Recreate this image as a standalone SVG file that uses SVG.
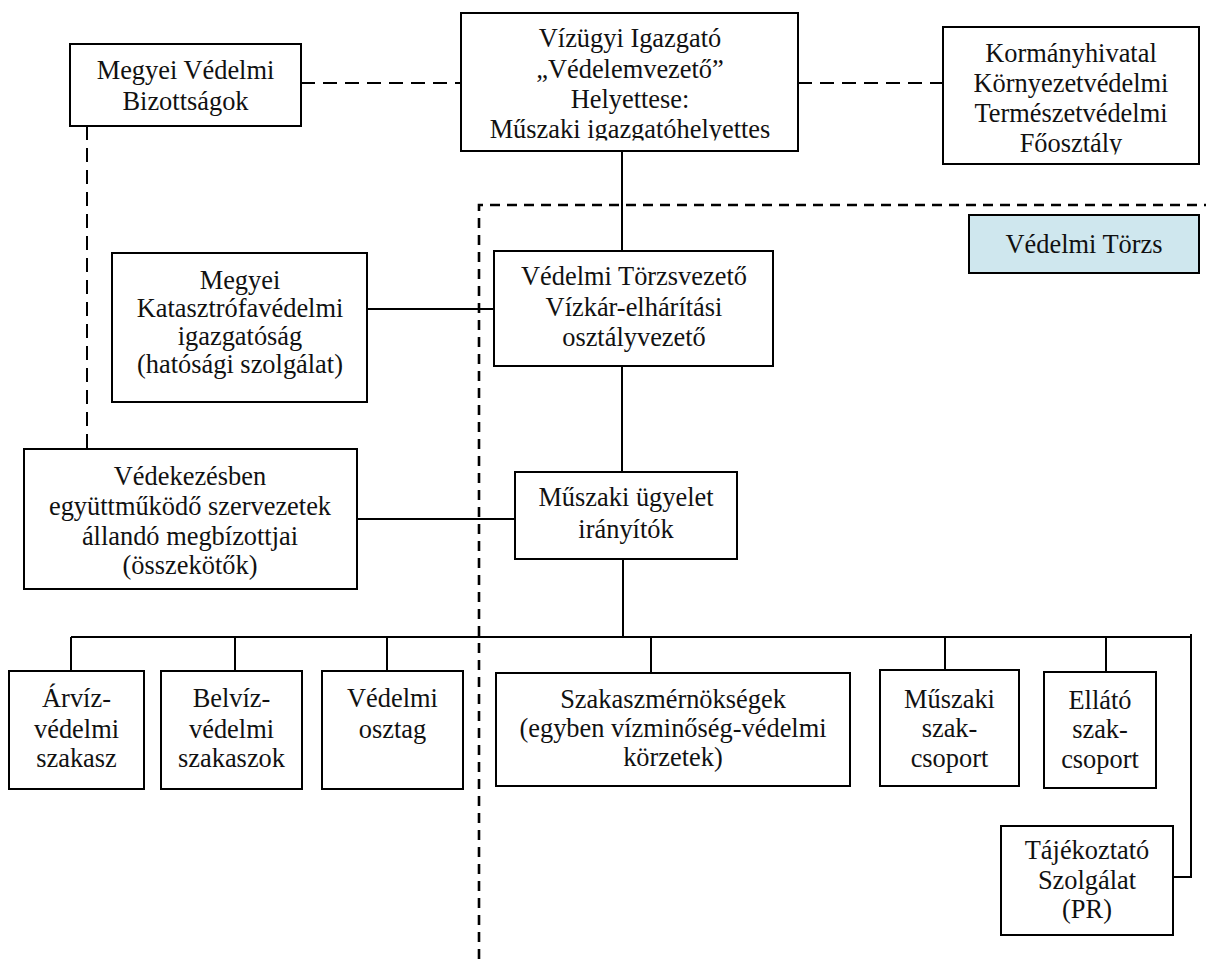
<svg xmlns="http://www.w3.org/2000/svg" width="1206" height="959" viewBox="0 0 1206 959">
<style>
.box{fill:#fff;stroke:#000;stroke-width:2}
.t{font-family:"Liberation Serif","Times New Roman",serif;font-size:26.4px;fill:#111;text-anchor:middle}
.solid{fill:none;stroke:#000;stroke-width:2}
.dash{fill:none;stroke:#000;stroke-width:2;stroke-dasharray:14 8}
.bound{fill:none;stroke:#000;stroke-width:2.6;stroke-dasharray:10 7}
</style>
<defs>
<clipPath id="clipViz"><rect x="461" y="13" width="337" height="127.5"/></clipPath>
<clipPath id="clipKorm"><rect x="943" y="27" width="256" height="127.5"/></clipPath>
</defs>
<rect width="1206" height="959" fill="#fff"/>

<g id="connectors">
<path class="dash" d="M301,83 H461"/>
<path class="dash" d="M798,83 H943"/>
<path class="dash" d="M87,126 V449"/>
<path class="solid" d="M622,151 V251"/>
<path class="solid" d="M367,309 H494"/>
<path class="solid" d="M622,366 V472"/>
<path class="solid" d="M357,519 H515"/>
<path class="solid" d="M623,559 V637"/>
<path class="solid" d="M71,637 H1191"/>
<path class="solid" d="M1191,634 V877 H1173"/>
<path class="solid" d="M71,637 V671"/>
<path class="solid" d="M235,637 V671"/>
<path class="solid" d="M387,637 V671"/>
<path class="solid" d="M651,637 V673"/>
<path class="solid" d="M945,637 V670"/>
<path class="solid" d="M1106,637 V672"/>
</g>

<g id="boundary">
<path class="bound" d="M479,959 V205 H1206"/>
</g>

<g id="megyei-vedelmi">
<rect class="box" x="70" y="44" width="231" height="82"/>
<text class="t" x="185.5" y="79">Megyei Védelmi</text>
<text class="t" x="185.5" y="110">Bizottságok</text>
</g>

<g id="vizugyi">
<rect class="box" x="461" y="13" width="337" height="138"/>
<g clip-path="url(#clipViz)">
<text class="t" x="630" y="47">Vízügyi Igazgató</text>
<text class="t" x="630" y="78">„Védelemvezető”</text>
<text class="t" x="630" y="108">Helyettese:</text>
<text class="t" x="630" y="138">Műszaki igazgatóhelyettes</text>
</g>
</g>

<g id="kormanyhivatal">
<rect class="box" x="943" y="27" width="256" height="137"/>
<g clip-path="url(#clipKorm)">
<text class="t" x="1071" y="62">Kormányhivatal</text>
<text class="t" x="1071" y="92">Környezetvédelmi</text>
<text class="t" x="1071" y="122">Természetvédelmi</text>
<text class="t" x="1071" y="152">Főosztály</text>
</g>
</g>

<g id="vedelmi-torzs">
<rect x="969" y="215" width="230" height="58" fill="#CFE7EE" stroke="#000" stroke-width="2"/>
<text class="t" x="1084" y="253">Védelmi Törzs</text>
</g>

<g id="katasztrofavedelmi">
<rect class="box" x="112" y="253" width="255" height="149"/>
<text class="t" x="240" y="289">Megyei</text>
<text class="t" x="240" y="317">Katasztrófavédelmi</text>
<text class="t" x="240" y="345">igazgatóság</text>
<text class="t" x="240" y="373">(hatósági szolgálat)</text>
</g>

<g id="torzsvezeto">
<rect class="box" x="494" y="251" width="279" height="115"/>
<text class="t" x="634" y="285">Védelmi Törzsvezető</text>
<text class="t" x="634" y="316">Vízkár-elhárítási</text>
<text class="t" x="634" y="346">osztályvezető</text>
</g>

<g id="vedekezesben">
<rect class="box" x="24" y="449" width="333" height="140"/>
<text class="t" x="190" y="485">Védekezésben</text>
<text class="t" x="190" y="515">együttműködő szervezetek</text>
<text class="t" x="190" y="545">állandó megbízottjai</text>
<text class="t" x="190" y="574">(összekötők)</text>
</g>

<g id="ugyelet">
<rect class="box" x="515" y="472" width="222" height="87"/>
<text class="t" x="626" y="506">Műszaki ügyelet</text>
<text class="t" x="626" y="538">irányítók</text>
</g>

<g id="arviz">
<rect class="box" x="9" y="671" width="135" height="118"/>
<text class="t" x="76.5" y="707">Árvíz-</text>
<text class="t" x="76.5" y="738">védelmi</text>
<text class="t" x="76.5" y="767">szakasz</text>
</g>

<g id="belviz">
<rect class="box" x="161" y="671" width="141" height="118"/>
<text class="t" x="231.5" y="707">Belvíz-</text>
<text class="t" x="231.5" y="738">védelmi</text>
<text class="t" x="231.5" y="767">szakaszok</text>
</g>

<g id="osztag">
<rect class="box" x="322" y="671" width="141" height="118"/>
<text class="t" x="392.5" y="707">Védelmi</text>
<text class="t" x="392.5" y="738">osztag</text>
</g>

<g id="szakaszmernoksegek">
<rect class="box" x="496" y="673" width="354" height="113"/>
<text class="t" x="673" y="708">Szakaszmérnökségek</text>
<text class="t" x="673" y="737">(egyben vízminőség-védelmi</text>
<text class="t" x="673" y="766">körzetek)</text>
</g>

<g id="muszaki-szakcsoport">
<rect class="box" x="880" y="670" width="139" height="116"/>
<text class="t" x="949.5" y="708">Műszaki</text>
<text class="t" x="949.5" y="737">szak-</text>
<text class="t" x="949.5" y="767">csoport</text>
</g>

<g id="ellato-szakcsoport">
<rect class="box" x="1044" y="672" width="112" height="116"/>
<text class="t" x="1100" y="709">Ellátó</text>
<text class="t" x="1100" y="738">szak-</text>
<text class="t" x="1100" y="768">csoport</text>
</g>

<g id="tajekoztato">
<rect class="box" x="1001" y="826" width="172" height="109"/>
<text class="t" x="1087" y="859">Tájékoztató</text>
<text class="t" x="1087" y="889">Szolgálat</text>
<text class="t" x="1087" y="918">(PR)</text>
</g>
</svg>
